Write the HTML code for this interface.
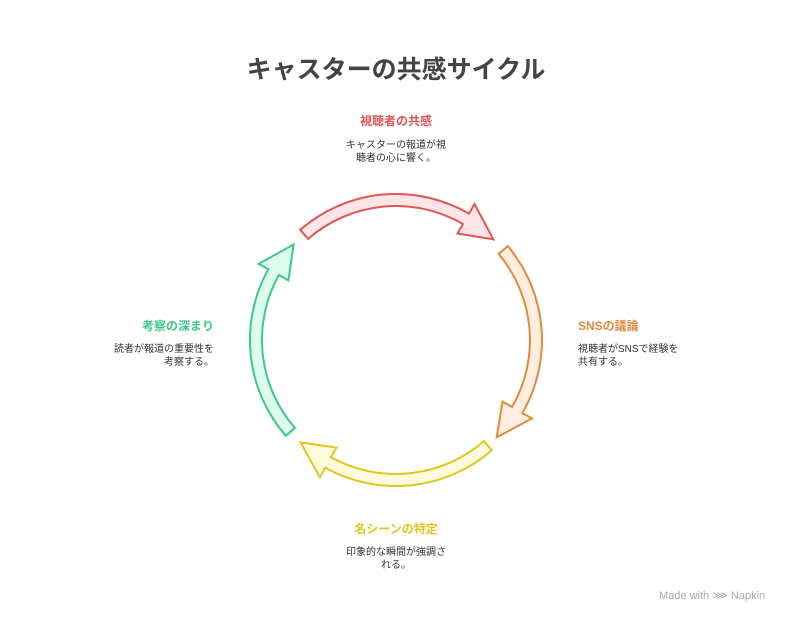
<!DOCTYPE html>
<html><head><meta charset="utf-8"><style>
body{margin:0;background:#fff;width:792px;height:624px;overflow:hidden;font-family:"Liberation Sans","Noto Sans CJK JP",sans-serif;}
svg{position:absolute;left:0;top:0}
.t{position:absolute;font-size:10px;color:#333;line-height:13px}
.h{position:absolute;font-size:12px;font-weight:bold}
</style></head><body>
<svg id="s" width="792" height="624"></svg>
<div style="position:absolute;left:0;width:792px;top:50px;text-align:center;font-size:25px;font-weight:bold;color:#444">キャスターの共感サイクル</div>
<div class="h" style="left:346px;top:112px;width:100px;text-align:center;color:#e05555">視聴者の共感</div>
<div class="t" style="left:336px;top:139px;width:120px;text-align:center">キャスターの報道が視<br>聴者の心に響く。</div>
<div class="h" style="left:578px;top:317px;color:#e08a3c">SNSの議論</div>
<div class="t" style="left:578px;top:343px">視聴者がSNSで経験を<br>共有する。</div>
<div class="h" style="left:112px;top:317px;width:102px;text-align:right;color:#3cc98a">考察の深まり</div>
<div class="t" style="left:100px;top:343px;width:114px;text-align:right">読者が報道の重要性を<br>考察する。</div>
<div class="h" style="left:336px;top:520px;width:120px;text-align:center;color:#e0c620">名シーンの特定</div>
<div class="t" style="left:330px;top:546px;width:132px;text-align:center">印象的な瞬間が強調さ<br>れる。</div>
<div style="position:absolute;left:659px;top:589px;font-size:11px;color:#aaa">Made with <span style="font-size:11px">⋙</span> Napkin</div>
<script>
var cx=396,cy=340,R=140,w=6,hw=17,hl=14;
function p(a,r){a=a*Math.PI/180;return (cx+r*Math.cos(a)).toFixed(1)+','+(cy+r*Math.sin(a)).toFixed(1);}
function arrow(a0,a1,st,fi){
 var b=a1-hl;
 var d='M'+p(a0,R+w)+' A'+(R+w)+','+(R+w)+' 0 0 1 '+p(b,R+w)+' L'+p(b,R+hw)+' L'+p(a1,R)+' L'+p(b,R-hw)+' L'+p(b,R-w)+' A'+(R-w)+','+(R-w)+' 0 0 0 '+p(a0,R-w)+' Z';
 return '<path d="'+d+'" fill="'+fi+'" stroke="'+st+'" stroke-width="2" stroke-linejoin="miter"/>';
}
document.getElementById('s').innerHTML=
 arrow(-131,-46,'#e05555','#ffe6e6')+
 arrow(-40,44,'#e08a3c','#ffeedf')+
 arrow(49,133,'#e0c620','#fffadb')+
 arrow(139,223,'#3cc98a','#defcee');
</script>
</body></html>
